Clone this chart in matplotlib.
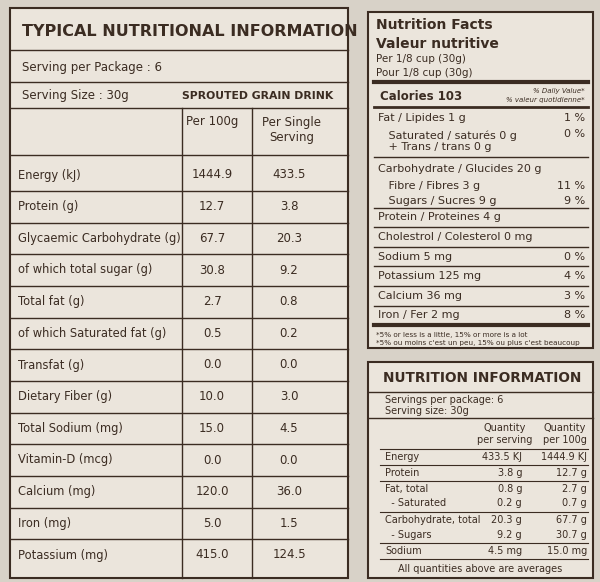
import matplotlib.pyplot as plt

# left table
left_labels = ["Energy (kJ)", "Protein (g)", "Glycaemic Carbohydrate (g)", "of which total sugar (g)",
               "Total fat (g)", "of which Saturated fat (g)", "Transfat (g)", "Dietary Fiber (g)",
               "Total Sodium (mg)", "Vitamin-D (mcg)", "Calcium (mg)", "Iron (mg)", "Potassium (mg)"]
per_100g = ["1444.9", "12.7", "67.7", "30.8", "2.7", "0.5", "0.0", "10.0", "15.0", "0.0", "120.0", "5.0", "415.0"]
per_serving = ["433.5", "3.8", "20.3", "9.2", "0.8", "0.2", "0.0", "3.0", "4.5", "0.0", "36.0", "1.5", "124.5"]

# nutrition facts
nf_labels = ["Fat / Lipides 1 g", "   Saturated / saturés 0 g\n   + Trans / trans 0 g",
             "Carbohydrate / Glucides 20 g", "   Fibre / Fibres 3 g", "   Sugars / Sucres 9 g",
             "Protein / Proteines 4 g", "Cholestrol / Colesterol 0 mg", "Sodium 5 mg",
             "Potassium 125 mg", "Calcium 36 mg", "Iron / Fer 2 mg"]
nf_dv = ["1 %", "0 %", "", "11 %", "9 %", "", "", "0 %", "4 %", "3 %", "8 %"]
nf_y = [118, 141, 169, 186, 201, 217, 237, 257, 276, 296, 315]

# nutrition information
ni_labels = ["Energy", "Protein", "Fat, total", "  - Saturated", "Carbohydrate, total", "  - Sugars", "Sodium"]
ni_serv = ["433.5 KJ", "3.8 g", "0.8 g", "0.2 g", "20.3 g", "9.2 g", "4.5 mg"]
ni_100 = ["1444.9 KJ", "12.7 g", "2.7 g", "0.7 g", "67.7 g", "30.7 g", "15.0 mg"]
ni_y = [457, 473, 489, 503, 520, 535, 551]

bg = "#ebe5dc"
ink = "#3b2c22"
fig = plt.figure(figsize=(6, 5.82), dpi=100, facecolor="#d8d2c8")
ax = fig.add_axes([0, 0, 1, 1])
ax.set_xlim(0, 600)
ax.set_ylim(582, 0)
ax.axis("off")

def box(x0, y0, x1, y1, lw=1.5):
    ax.add_patch(plt.Rectangle((x0, y0), x1 - x0, y1 - y0, facecolor=bg, edgecolor=ink, lw=lw))

def hline(y, x0, x1, lw=1):
    ax.plot([x0, x1], [y, y], color=ink, lw=lw)

# ---- left panel
box(10, 8, 348, 578)
ax.text(22, 32, "TYPICAL NUTRITIONAL INFORMATION", fontsize=11.5, fontweight="bold", color=ink, va="center")
hline(50, 10, 348)
ax.text(22, 68, "Serving per Package : 6", fontsize=8.5, color=ink, va="center")
hline(82, 10, 348)
ax.text(22, 96, "Serving Size : 30g", fontsize=8.5, color=ink, va="center")
ax.text(182, 96, "SPROUTED GRAIN DRINK", fontsize=7.8, fontweight="bold", color=ink, va="center")
hline(108, 10, 348)
ax.text(212, 122, "Per 100g", fontsize=8.5, color=ink, ha="center", va="center")
ax.text(292, 130, "Per Single\nServing", fontsize=8.5, color=ink, ha="center", va="center")
row_h = (555 - 175) / (len(left_labels) - 1)
hline(155, 10, 348)
ax.plot([182, 182], [108, 578], color=ink, lw=1)
ax.plot([252, 252], [108, 578], color=ink, lw=1)
for i, lab in enumerate(left_labels):
    y = 175 + i * row_h
    ax.text(18, y, lab, fontsize=8.3, color=ink, va="center")
    ax.text(212, y, per_100g[i], fontsize=8.5, color=ink, ha="center", va="center")
    ax.text(289, y, per_serving[i], fontsize=8.5, color=ink, ha="center", va="center")
    if i < len(left_labels) - 1:
        hline(y + row_h / 2, 10, 348)

# ---- nutrition facts
box(368, 12, 593, 348)
ax.text(376, 25, "Nutrition Facts", fontsize=10, fontweight="bold", color=ink, va="center")
ax.text(376, 44, "Valeur nutritive", fontsize=10, fontweight="bold", color=ink, va="center")
ax.text(376, 59, "Per 1/8 cup (30g)", fontsize=7.5, color=ink, va="center")
ax.text(376, 73, "Pour 1/8 cup (30g)", fontsize=7.5, color=ink, va="center")
hline(82, 374, 588, lw=3)
ax.text(380, 96, "Calories 103", fontsize=8.5, fontweight="bold", color=ink, va="center")
ax.text(585, 91, "% Daily Value*", fontsize=5, style="italic", color=ink, ha="right", va="center")
ax.text(585, 100, "% valeur quotidienne*", fontsize=5, style="italic", color=ink, ha="right", va="center")
hline(107, 374, 588, lw=2)
for lab, dv, y in zip(nf_labels, nf_dv, nf_y):
    ax.text(378, y, lab, fontsize=8, color=ink, va="center", linespacing=1.1)
    ax.text(585, y if "\n" not in lab else y - 7, dv, fontsize=8, color=ink, ha="right", va="center")
for yl in [157, 208, 227, 247, 266, 286, 306]:
    hline(yl, 374, 588, lw=1)
hline(325, 374, 588, lw=3)
ax.text(376, 335, "*5% or less is a little, 15% or more is a lot", fontsize=5.2, color=ink, va="center")
ax.text(376, 343, "*5% ou moins c'est un peu, 15% ou plus c'est beaucoup", fontsize=5.2, color=ink, va="center")

# ---- nutrition information
box(368, 362, 593, 578)
ax.text(383, 378, "NUTRITION INFORMATION", fontsize=9.8, fontweight="bold", color=ink, va="center")
hline(392, 368, 593)
ax.text(385, 400, "Servings per package: 6", fontsize=7, color=ink, va="center")
ax.text(385, 411, "Serving size: 30g", fontsize=7, color=ink, va="center")
hline(418, 368, 593)
ax.text(505, 434, "Quantity\nper serving", fontsize=7, color=ink, ha="center", va="center")
ax.text(565, 434, "Quantity\nper 100g", fontsize=7, color=ink, ha="center", va="center")
for lab, s, h, y in zip(ni_labels, ni_serv, ni_100, ni_y):
    ax.text(385, y, lab, fontsize=7, color=ink, va="center")
    ax.text(522, y, s, fontsize=7, color=ink, ha="right", va="center")
    ax.text(587, y, h, fontsize=7, color=ink, ha="right", va="center")
for yl in [449, 465, 481, 512, 543, 559]:
    hline(yl, 380, 588, lw=0.8)
ax.text(480, 569, "All quantities above are averages", fontsize=7, color=ink, ha="center", va="center")

fig.savefig("out.png", dpi=100, facecolor=fig.get_facecolor())
